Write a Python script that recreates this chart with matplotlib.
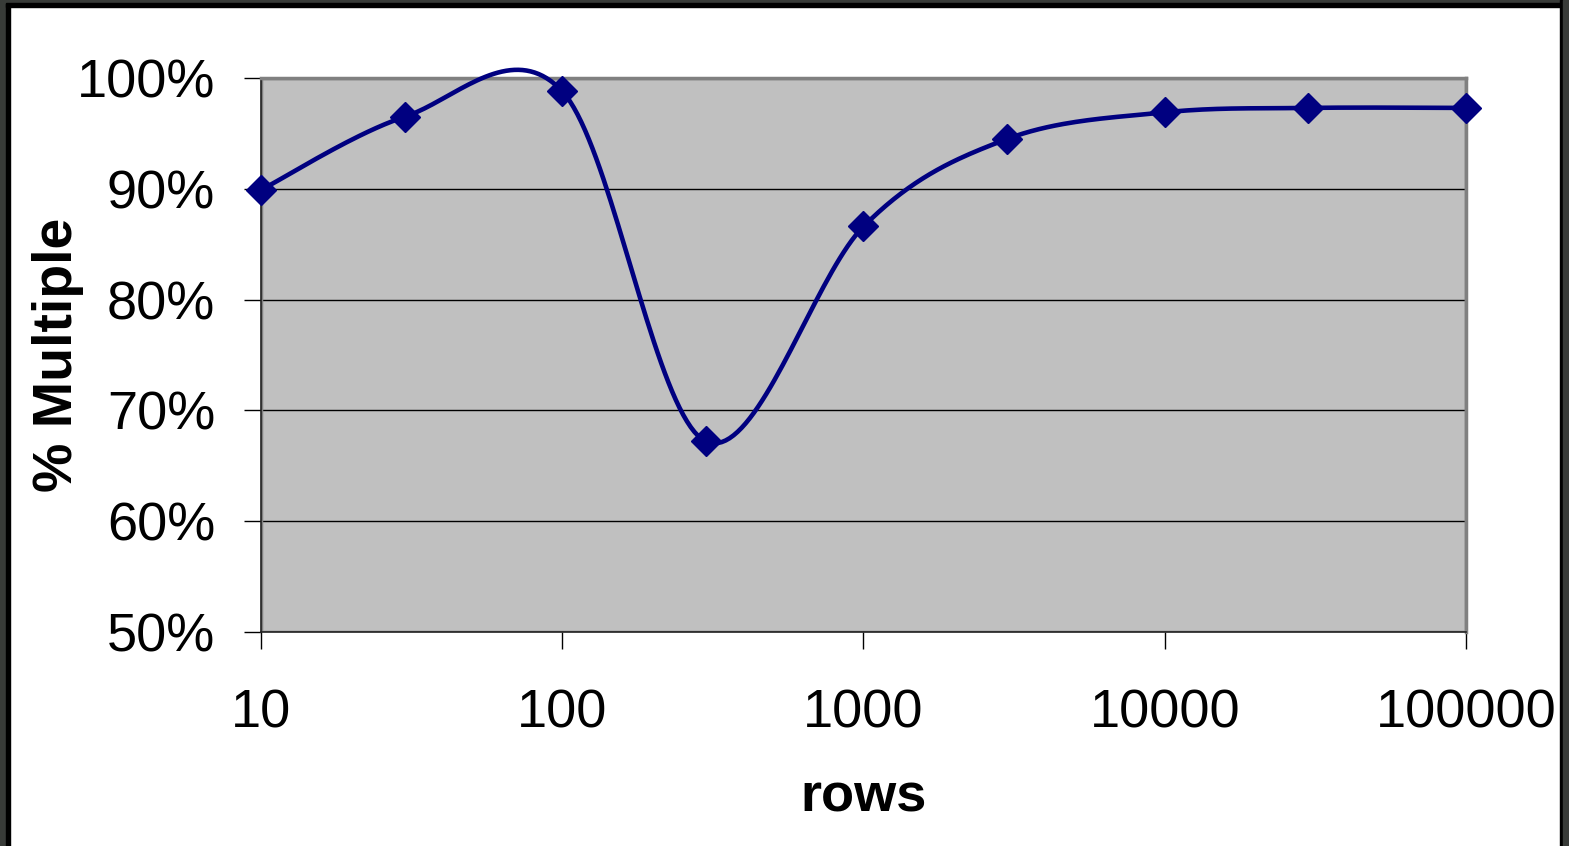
import numpy as np
import matplotlib.pyplot as plt
from matplotlib.patches import Rectangle
from matplotlib.ticker import FixedLocator, FuncFormatter

plt.rcParams['font.family'] = ['Liberation Sans', 'DejaVu Sans']

# rows tested and share of multiple-row results
rows = [10, 30, 100, 300, 1000, 3000, 10000, 30000, 100000]
pct_multiple = [89.9, 96.5, 98.8, 67.2, 86.6, 94.5, 96.9, 97.3, 97.3]

x_ticks = [10, 100, 1000, 10000, 100000]
y_ticks = [50, 60, 70, 80, 90, 100]


def smooth(xs, ys, n=40):
    # cubic bezier smoothing through every point (log x, linear y)
    lx = np.log10(xs)
    ys = np.asarray(ys, dtype=float)
    px = np.concatenate([[lx[0]], lx, [lx[-1]]])
    py = np.concatenate([[ys[0]], ys, [ys[-1]]])
    out_x, out_y = [], []
    t = np.linspace(0, 1, n)
    for i in range(1, len(px) - 2):
        p0 = np.array([px[i], py[i]])
        p3 = np.array([px[i + 1], py[i + 1]])
        p1 = p0 + (np.array([px[i + 1], py[i + 1]]) - np.array([px[i - 1], py[i - 1]])) / 6
        p2 = p3 - (np.array([px[i + 2], py[i + 2]]) - np.array([px[i], py[i]])) / 6
        b = ((1 - t) ** 3)[:, None] * p0 + (3 * (1 - t) ** 2 * t)[:, None] * p1 \
            + (3 * (1 - t) * t ** 2)[:, None] * p2 + (t ** 3)[:, None] * p3
        out_x.extend(b[:, 0])
        out_y.extend(b[:, 1])
    return 10 ** np.array(out_x), np.array(out_y)


fig = plt.figure(figsize=(15.69, 8.46), dpi=100)
ax = fig.add_axes([261 / 1569, 1 - 632 / 846, (1466 - 261) / 1569, (632 - 78) / 846])
ax.set_facecolor('#c0c0c0')

ax.set_xscale('log')
ax.set_xlim(10, 100000)
ax.set_ylim(50, 100)

ax.yaxis.set_major_locator(FixedLocator(y_ticks))
ax.yaxis.set_major_formatter(FuncFormatter(lambda v, p: f'{v:.0f}%'))
ax.xaxis.set_major_locator(FixedLocator(x_ticks))
ax.xaxis.set_minor_locator(FixedLocator([]))
ax.xaxis.set_major_formatter(FuncFormatter(lambda v, p: f'{v:.0f}'))

ax.tick_params(axis='both', length=12, width=1, color='black', labelsize=39)
ax.tick_params(axis='y', pad=21)
ax.tick_params(axis='x', pad=29)
ax.grid(axis='y', color='black', linewidth=1)
ax.set_axisbelow(True)

for side in ['top', 'right']:
    ax.spines[side].set_color('#808080')
    ax.spines[side].set_linewidth(2.5)
for side in ['left', 'bottom']:
    ax.spines[side].set_color('#202020')
    ax.spines[side].set_linewidth(1.2)
ax.add_patch(Rectangle((0, 0), 1, 1, transform=ax.transAxes, fill=False,
                       ec='#808080', lw=2.5, zorder=1.5))

sx, sy = smooth(rows, pct_multiple)
ax.plot(sx, sy, color='#000080', linewidth=3.3, clip_on=False, zorder=3)
ax.plot(rows, pct_multiple, linestyle='none', marker='D', markersize=15,
        color='#000080', clip_on=False, zorder=4)

ax.set_xlabel('rows', fontsize=39, fontweight='bold', labelpad=24)
ax.set_ylabel('% Multiple', fontsize=40, fontweight='bold')
ax.yaxis.set_label_coords(-0.147, 0.5)

# dark frame round the figure
W, H = 1569, 846
frame = [(0, 0, 6, H, '#383b38'), (6, 0, 4, H, '#000000'),
         (0, H - 3, W, 3, '#383b38'), (6, H - 7, W - 6, 4, '#000000'),
         (1560, 0, 3, H, '#000000'), (1563, 0, 6, H, '#383b38')]
for x0, y0, w, h, c in frame:
    fig.patches.append(Rectangle((x0 / W, y0 / H), w / W, h / H,
                                 transform=fig.transFigure, color=c, zorder=10))

fig.savefig('out.png', dpi=100)
